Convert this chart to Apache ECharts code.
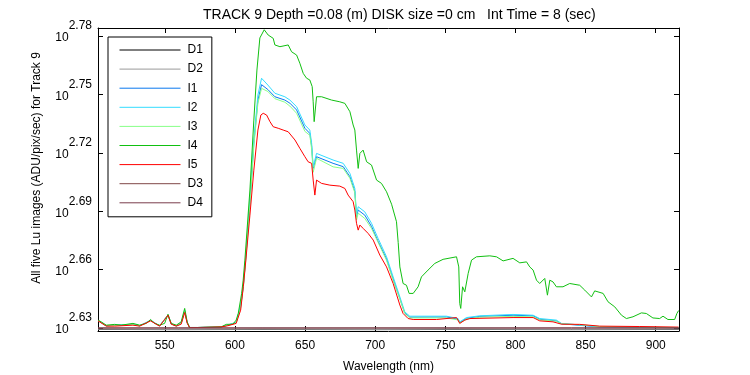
<!DOCTYPE html>
<html>
<head>
<meta charset="utf-8">
<script src="https://cdn.jsdelivr.net/npm/echarts@6/dist/echarts.min.js"></script>
<style>
  html, body { margin: 0; padding: 0; background: #fff; }
  #chart-container { width: 750px; height: 375px; }
</style>
</head>
<body>
<div id="chart-container"></div>
<script>
// wavelength (nm) / log10 of Lu (ADU/pix/sec)
var xTicks = [550, 600, 650, 700, 750, 800, 850, 900];
var yTicks = [2.63, 2.66, 2.69, 2.72, 2.75, 2.78];

var d1Data = [[502.4, 2.6293], [560, 2.6292], [620, 2.6293], [700, 2.6292], [760, 2.6293], [840, 2.6292], [916.3, 2.6293]];
var d2Data = [[502.4, 2.6294], [560, 2.6293], [620, 2.6294], [700, 2.6293], [760, 2.6294], [840, 2.6293], [916.3, 2.6294]];
var d3Data = [[502.4, 2.6300], [560, 2.6301], [620, 2.6300], [700, 2.6301], [760, 2.6300], [840, 2.6301], [916.3, 2.6300]];
var d4Data = [[502.4, 2.6301], [560, 2.6300], [620, 2.6301], [700, 2.6300], [760, 2.6301], [840, 2.6300], [916.3, 2.6301]];

var i1Data = [[502.4, 2.6339], [508.3, 2.6312], [514.3, 2.6314], [527.3, 2.6319], [532.1, 2.6312], [539.9, 2.6339], [546.3, 2.6311],
  [552.3, 2.6367], [554.6, 2.6321], [558.2, 2.6311], [561.7, 2.6325], [564.2, 2.6388], [566, 2.6327], [567.7, 2.6303], [573.6, 2.6303],
  [590.2, 2.6306], [595, 2.6315], [600.9, 2.6328], [604.1, 2.6412], [606, 2.6515], [607.8, 2.6665], [610.7, 2.6945], [613.5, 2.7250],
  [616.4, 2.7470], [619, 2.7550], [620.2, 2.7548], [623.5, 2.7525], [628.5, 2.7488], [635.6, 2.7471], [639.2, 2.7455], [644, 2.7420],
  [649.9, 2.7326], [653.4, 2.7300], [654.7, 2.7235], [655.8, 2.7120], [658.2, 2.7180], [670, 2.7146], [677.2, 2.7129], [682, 2.7077],
  [685.5, 2.7002], [686.7, 2.6870], [687.9, 2.6906], [692.6, 2.6880], [697.4, 2.6822], [702.1, 2.6745], [708.1, 2.6655], [712.8, 2.6552],
  [717.6, 2.6452], [721.1, 2.6377], [724.7, 2.6356], [750.8, 2.6357], [759.1, 2.6346], [760.3, 2.6328], [765.1, 2.6350], [774.6, 2.6360],
  [798.3, 2.6366], [812.6, 2.6363], [817.3, 2.6345], [829.2, 2.6337], [832.8, 2.6322], [848, 2.6313], [860.1, 2.6306], [916.3, 2.6302]];

var i2Data = [[502.4, 2.6340], [508.3, 2.6312], [514.3, 2.6315], [527.3, 2.6320], [532.1, 2.6312], [539.9, 2.6340], [546.3, 2.6312],
  [552.3, 2.6368], [554.6, 2.6322], [558.2, 2.6312], [561.7, 2.6326], [564.2, 2.6390], [566, 2.6328], [567.7, 2.6303], [573.6, 2.6303],
  [590.2, 2.6306], [595, 2.6316], [600.9, 2.6330], [604.1, 2.6420], [606, 2.6520], [607.8, 2.6675], [610.7, 2.6957], [613.5, 2.7266],
  [616.4, 2.7497], [619, 2.7583], [620.2, 2.7583], [623.5, 2.7548], [628.5, 2.7506], [635.6, 2.7488], [639.2, 2.7471], [644, 2.7437],
  [649.9, 2.7343], [653.4, 2.7317], [654.7, 2.7249], [655.8, 2.7128], [658.2, 2.7197], [670, 2.7163], [677.2, 2.7146], [682, 2.7094],
  [685.5, 2.7017], [686.7, 2.6880], [687.9, 2.6923], [692.6, 2.6897], [697.4, 2.6838], [702.1, 2.6760], [708.1, 2.6666], [712.8, 2.6563],
  [717.6, 2.6460], [721.1, 2.6383], [724.7, 2.6361], [750.8, 2.6361], [759.1, 2.6349], [760.3, 2.6332], [765.1, 2.6354], [774.6, 2.6363],
  [798.3, 2.6370], [812.6, 2.6366], [817.3, 2.6349], [829.2, 2.6341], [832.8, 2.6324], [848, 2.6315], [860.1, 2.6307], [916.3, 2.6302]];

var i3Data = [[502.4, 2.6338], [508.3, 2.6311], [514.3, 2.6313], [527.3, 2.6318], [532.1, 2.6311], [539.9, 2.6338], [546.3, 2.6311],
  [552.3, 2.6366], [554.6, 2.6321], [558.2, 2.6311], [561.7, 2.6324], [564.2, 2.6386], [566, 2.6326], [567.7, 2.6303], [573.6, 2.6303],
  [590.2, 2.6306], [595, 2.6314], [600.9, 2.6326], [604.1, 2.6405], [606, 2.6510], [607.8, 2.6655], [610.7, 2.6930], [613.5, 2.7235],
  [616.4, 2.7455], [619, 2.7531], [620.2, 2.7535], [623.5, 2.7515], [628.5, 2.7478], [635.6, 2.7460], [639.2, 2.7440], [644, 2.7403],
  [649.9, 2.7310], [653.4, 2.7290], [654.7, 2.7220], [655.8, 2.7100], [658.2, 2.7172], [670, 2.7128], [677.2, 2.7120], [682, 2.7069],
  [685.5, 2.6995], [686.7, 2.6855], [687.9, 2.6890], [692.6, 2.6863], [697.4, 2.6812], [702.1, 2.6740], [708.1, 2.6648], [712.8, 2.6545],
  [717.6, 2.6448], [721.1, 2.6375], [724.7, 2.6352], [750.8, 2.6352], [759.1, 2.6342], [760.3, 2.6326], [765.1, 2.6346], [774.6, 2.6356],
  [798.3, 2.6360], [812.6, 2.6358], [817.3, 2.6342], [829.2, 2.6335], [832.8, 2.6322], [848, 2.6316], [860.1, 2.6308], [916.3, 2.6303]];

var i4Data = [[502.4, 2.6341], [504.7, 2.6332], [508.3, 2.6315], [514.3, 2.6319], [519, 2.6315], [527.3, 2.6324], [532.1, 2.6315],
  [536.8, 2.6324], [539.9, 2.6344], [542.8, 2.6324], [546.3, 2.6315], [549.9, 2.6324], [552.3, 2.6371], [554.6, 2.6324], [558.2, 2.6315],
  [561.7, 2.6332], [564.2, 2.6401], [566, 2.6332], [567.7, 2.6303], [573.6, 2.6303], [590.2, 2.6306], [593.8, 2.6319], [598.6, 2.6320],
  [600.9, 2.6341], [602.4, 2.6375], [604.8, 2.6478], [605.9, 2.6546], [607.1, 2.6649], [610.7, 2.7009], [613.5, 2.7368], [615.7, 2.7625],
  [617.8, 2.7790], [620.9, 2.7832], [623.7, 2.7805], [627.3, 2.7788], [628.5, 2.7754], [632.1, 2.7745], [638, 2.7754], [640.4, 2.7719],
  [644, 2.7702], [646.3, 2.7660], [648.7, 2.7608], [651.1, 2.7583], [653.4, 2.7574], [655.1, 2.7540], [655.8, 2.7462], [656.5, 2.7360],
  [658.2, 2.7488], [661.8, 2.7488], [668.9, 2.7471], [674.8, 2.7462], [678.4, 2.7454], [682, 2.7411], [684.3, 2.7343], [685.5, 2.7317],
  [686.7, 2.7214], [687.9, 2.7120], [689.1, 2.7197], [691.4, 2.7214], [693.9, 2.7154], [697.4, 2.7137], [701, 2.7060], [704.5, 2.7043],
  [708.1, 2.7000], [711.7, 2.6936], [715.2, 2.6846], [716.4, 2.6740], [717.6, 2.6614], [719.9, 2.6529], [722.3, 2.6520], [724.2, 2.6478],
  [727.1, 2.6478], [730.6, 2.6512], [733, 2.6563], [737.7, 2.6598], [742.5, 2.6632], [748.4, 2.6653], [758, 2.6666], [759.6, 2.6614],
  [760.3, 2.6426], [761, 2.6401], [762.3, 2.6512], [763.9, 2.6486], [766.3, 2.6581], [768.7, 2.6649], [772.2, 2.6666], [781.7, 2.6671],
  [786.5, 2.6666], [791.2, 2.6645], [798.3, 2.6658], [803.1, 2.6635], [807.9, 2.6640], [810.2, 2.6614], [812.6, 2.6598], [815, 2.6546],
  [817.3, 2.6529], [820.9, 2.6555], [822.8, 2.6469], [824.5, 2.6546], [826.8, 2.6537], [829.2, 2.6512], [833.9, 2.6512], [838.7, 2.6529],
  [845.8, 2.6520], [849.4, 2.6495], [854.2, 2.6460], [856.5, 2.6491], [862.5, 2.6478], [866, 2.6435], [870.8, 2.6409], [875.6, 2.6366],
  [879.1, 2.6349], [883.8, 2.6358], [889.8, 2.6378], [893.3, 2.6375], [898, 2.6352], [902.8, 2.6349], [905.2, 2.6361], [908.7, 2.6344],
  [913.5, 2.6344], [915.1, 2.6375], [916.3, 2.6390]];

var i5Data = [[502.4, 2.6337], [508.3, 2.6310], [514.3, 2.6310], [527.3, 2.6315], [532.1, 2.6310], [539.9, 2.6337], [546.3, 2.6310],
  [552.3, 2.6366], [554.6, 2.6320], [558.2, 2.6310], [561.7, 2.6320], [564.2, 2.6380], [566, 2.6325], [567.7, 2.6303], [573.6, 2.6303],
  [590.2, 2.6306], [595, 2.6312], [600.9, 2.6324], [604.1, 2.6392], [606, 2.6512], [607.8, 2.6649], [610.7, 2.6880], [613.5, 2.7111],
  [616.4, 2.7317], [618.5, 2.7394], [620.2, 2.7403], [622.6, 2.7394], [625, 2.7360], [627.3, 2.7334], [630.9, 2.7326], [634.4, 2.7317],
  [638, 2.7308], [642.8, 2.7266], [646.3, 2.7223], [649.9, 2.7180], [652.2, 2.7154], [654.7, 2.7146], [655.8, 2.7060], [657, 2.6983],
  [658.2, 2.7060], [661.8, 2.7043], [667.7, 2.7034], [674.8, 2.7029], [678.4, 2.7017], [680.7, 2.6983], [684.3, 2.6949], [685.5, 2.6906],
  [686.7, 2.6838], [687.9, 2.6803], [689.1, 2.6829], [691.4, 2.6812], [695, 2.6786], [698.6, 2.6752], [703.3, 2.6675], [708.1, 2.6614],
  [712.8, 2.6529], [717.6, 2.6418], [719.9, 2.6375], [723.5, 2.6349], [727.1, 2.6344], [743.7, 2.6344], [758, 2.6354], [760.3, 2.6324],
  [763.9, 2.6341], [767.5, 2.6349], [798.3, 2.6354], [812.6, 2.6354], [817.3, 2.6337], [826.8, 2.6332], [832.8, 2.6320], [845.8, 2.6319],
  [860.1, 2.6310], [888.6, 2.6308], [916.3, 2.6305]];

var seriesNames = ['D1', 'D2', 'I1', 'I2', 'I3', 'I4', 'I5', 'D3', 'D4'];
var seriesData = [d1Data, d2Data, i1Data, i2Data, i3Data, i4Data, i5Data, d3Data, d4Data];
var seriesColors = ['#000000', '#999999', '#0a78ee', '#33ddff', '#88ff88', '#11c011', '#ff0000', '#804848', '#7a3c4c'];

var font = 'Liberation Sans, Arial, Helvetica, sans-serif';
var xMin = 502.4, xMax = 916.6;
var yMin = 2.6285, yMax = 2.7841;

var myChart = echarts.init(document.getElementById('chart-container'));

var series = [];
for (var i = 0; i < seriesNames.length; i++) {
    series.push({
        name: seriesNames[i],
        type: 'line',
        data: seriesData[i],
        showSymbol: false,
        symbol: 'none',
        color: seriesColors[i],
        lineStyle: { width: 1, color: seriesColors[i] },
        xAxisIndex: 0,
        yAxisIndex: 0
    });
}

var option = {
    animation: false,
    backgroundColor: '#fff',
    textStyle: { fontFamily: font },
    title: {
        text: 'TRACK 9 Depth =0.08 (m) DISK size =0 cm   Int Time = 8 (sec)',
        left: 198,
        top: 3,
        textStyle: { fontSize: 14, fontWeight: 'normal', color: '#000', fontFamily: font }
    },
    legend: {
        data: seriesNames,
        orient: 'vertical',
        left: 108,
        top: 37,
        itemWidth: 61,
        itemHeight: 13,
        itemGap: 7.1,
        itemStyle: { opacity: 0 },
        lineStyle: { width: 1 },
        padding: [7, 9, 8, 11],
        borderColor: '#000',
        borderWidth: 1,
        backgroundColor: '#fff',
        textStyle: { fontSize: 12, color: '#000', fontFamily: font, padding: [0, 0, 0, 2] }
    },
    grid: { left: 98, right: 71, top: 28, bottom: 44, containLabel: false, outerBoundsMode: 'none' },
    xAxis: [
        {
            type: 'value', min: xMin, max: xMax, position: 'bottom',
            name: 'Wavelength (nm)', nameLocation: 'middle', nameGap: 30,
            nameTextStyle: { fontSize: 12, color: '#000', fontFamily: font },
            axisLine: { lineStyle: { color: '#000', width: 1 } },
            axisTick: { inside: true, length: 5, customValues: xTicks, lineStyle: { color: '#000' } },
            axisLabel: { customValues: xTicks, margin: 9, fontSize: 12, color: '#000', fontFamily: font },
            splitLine: { show: false }
        },
        {
            type: 'value', min: xMin, max: xMax, position: 'top',
            axisLine: { lineStyle: { color: '#000', width: 1 } },
            axisTick: { inside: true, length: 5, customValues: xTicks, lineStyle: { color: '#000' } },
            axisLabel: { show: false },
            splitLine: { show: false }
        }
    ],
    yAxis: [
        {
            type: 'value', min: yMin, max: yMax, position: 'left',
            axisLine: { lineStyle: { color: '#000', width: 1 } },
            axisTick: { inside: true, length: 5, customValues: yTicks, lineStyle: { color: '#000' } },
            axisLabel: {
                customValues: yTicks,
                margin: 6,
                padding: [0, 0, 8, 0],
                formatter: function (v) { return '{b|10}{s|' + v.toFixed(2) + '}'; },
                rich: {
                    b: { fontSize: 12, color: '#000', fontFamily: font, verticalAlign: 'bottom', padding: [12, 0, 0, 0] },
                    s: { fontSize: 12, color: '#000', fontFamily: font, verticalAlign: 'top' }
                }
            },
            splitLine: { show: false }
        },
        {
            type: 'value', min: yMin, max: yMax, position: 'right',
            axisLine: { lineStyle: { color: '#000', width: 1 } },
            axisTick: { inside: true, length: 5, customValues: yTicks, lineStyle: { color: '#000' } },
            axisLabel: { show: false },
            splitLine: { show: false }
        }
    ],
    graphic: [
        {
            type: 'text',
            x: 37, y: 168,
            rotation: Math.PI / 2,
            style: {
                text: 'All five Lu images (ADU/pix/sec) for Track 9',
                fontSize: 12, fontFamily: font, fill: '#000',
                align: 'center', verticalAlign: 'middle'
            }
        }
    ],
    series: series
};

myChart.setOption(option);
</script>
</body>
</html>
